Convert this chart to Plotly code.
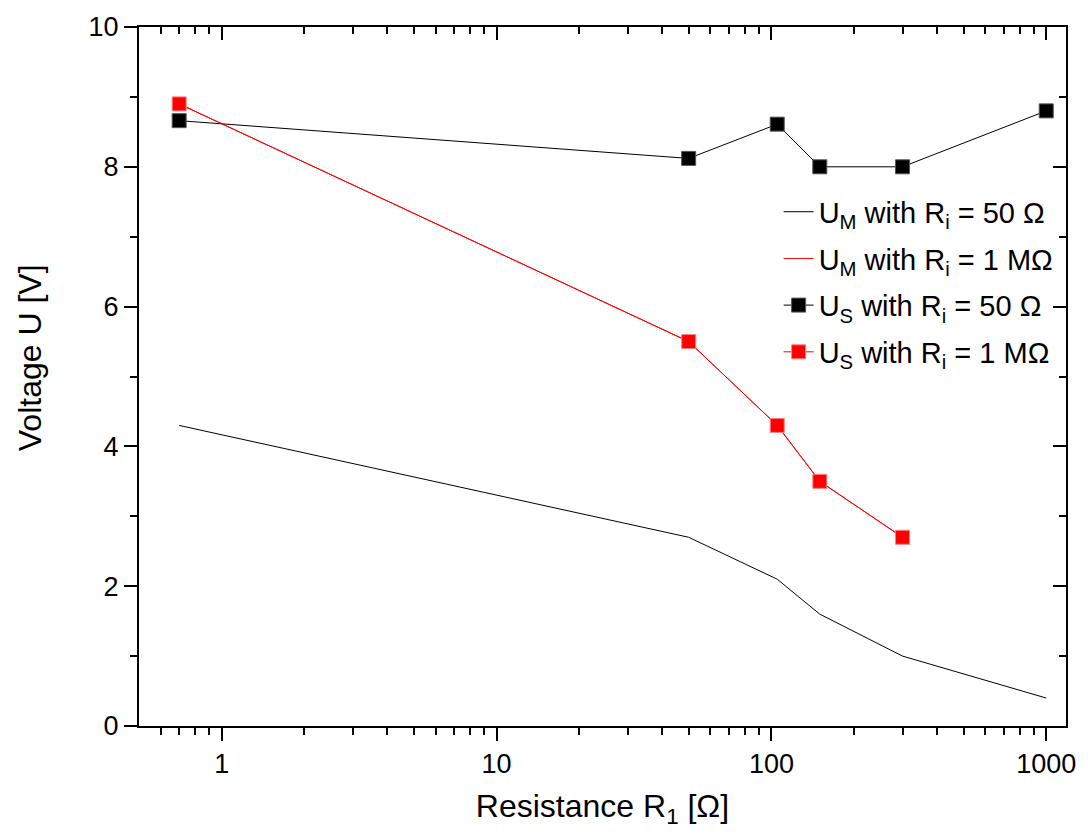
import math
import plotly.graph_objects as go

# Data
r_um50 = [0.7, 50, 105, 150, 300, 1000]
u_m50 = [4.3, 2.7, 2.1, 1.6, 1.0, 0.4]

r_um1m = [0.7, 50, 105, 150, 300]
u_m1m = [8.9, 5.5, 4.3, 3.5, 2.7]

r_us50 = [0.7, 50, 105, 150, 300, 1000]
u_s50 = [8.66, 8.12, 8.61, 8.0, 8.0, 8.8]

r_us1m = [0.7, 50, 105, 150, 300]
u_s1m = [8.9, 5.5, 4.3, 3.5, 2.7]

x_ticks = [1, 10, 100, 1000]
x_tick_text = ["1", "10", "100", "1000"]
x_minor = [0.6, 0.7, 0.8, 0.9, 2, 3, 4, 5, 6, 7, 8, 9, 20, 30, 40, 50, 60, 70, 80, 90,
           200, 300, 400, 500, 600, 700, 800, 900]

FONT = "Arial, Liberation Sans, sans-serif"

fig = go.Figure()
fig.add_trace(go.Scatter(x=r_um50, y=u_m50, mode="lines", line=dict(color="black", width=1),
                         legendgroup="a",
                         name="U<sub>M</sub> with R<sub>i</sub> = 50 Ω"))
fig.add_trace(go.Scatter(x=r_um1m, y=u_m1m, mode="lines", line=dict(color="#ff0000", width=1),
                         legendgroup="b",
                         name="U<sub>M</sub> with R<sub>i</sub> = 1 MΩ"))
fig.add_trace(go.Scatter(x=r_us50, y=u_s50, mode="lines+markers", line=dict(color="black", width=1),
                         marker=dict(symbol="square", size=14, color="black",
                                     line=dict(color="#555555", width=1)),
                         legendgroup="c",
                         name="U<sub>S</sub> with R<sub>i</sub> = 50 Ω"))
# plotted on the mirror axes (identical ranges) so the top/right axes are drawn
fig.add_trace(go.Scatter(x=r_us1m, y=u_s1m, mode="lines+markers", line=dict(color="#ff0000", width=1),
                         marker=dict(symbol="square", size=14, color="#ff0000",
                                     line=dict(color="#ff8080", width=1)),
                         legendgroup="d", xaxis="x2", yaxis="y2",
                         name="U<sub>S</sub> with R<sub>i</sub> = 1 MΩ"))

xr = [math.log10(0.5), math.log10(1180)]
yr = [0, 10]

axis_common = dict(showline=True, linecolor="black", linewidth=2, showgrid=False, zeroline=False)

fig.update_layout(
    width=1088, height=835,
    margin=dict(l=139, r=15, t=27, b=109),
    paper_bgcolor="white", plot_bgcolor="white",
    font=dict(family=FONT, color="black", size=27),
    showlegend=True,
    legend=dict(x=0.69, y=0.772, xanchor="left", yanchor="top", bgcolor="rgba(0,0,0,0)",
                font=dict(size=29, family=FONT), tracegroupgap=6, traceorder="grouped"),
    xaxis=dict(type="log", range=xr, tickvals=x_ticks, ticktext=x_tick_text,
               ticks="outside", ticklen=13, tickwidth=2, tickcolor="black",
               minor=dict(tickvals=x_minor, ticks="outside", ticklen=7, tickwidth=2, tickcolor="black"),
               title=dict(text="Resistance R<sub>1</sub> [Ω]", font=dict(size=32), standoff=16),
               tickfont=dict(size=27), **axis_common),
    yaxis=dict(range=yr, dtick=2, tick0=0,
               ticks="outside", ticklen=13, tickwidth=2, tickcolor="black",
               minor=dict(dtick=1, ticks="outside", ticklen=7, tickwidth=2, tickcolor="black"),
               tickfont=dict(size=27), **axis_common),
    xaxis2=dict(type="log", range=xr, overlaying="x", side="top", anchor="y2", tickvals=x_ticks,
                showticklabels=False, ticks="inside", ticklen=13, tickwidth=2, tickcolor="black",
                minor=dict(tickvals=x_minor, ticks="inside", ticklen=7, tickwidth=2, tickcolor="black"),
                **axis_common),
    yaxis2=dict(range=yr, overlaying="y", side="right", anchor="x2", dtick=2, tick0=0,
                showticklabels=False, ticks="inside", ticklen=13, tickwidth=2, tickcolor="black",
                minor=dict(dtick=1, ticks="inside", ticklen=7, tickwidth=2, tickcolor="black"),
                **axis_common),
    annotations=[dict(text="Voltage U [V]", textangle=-90, xref="paper", yref="paper",
                      x=-0.118, y=0.527, xanchor="center", yanchor="middle", showarrow=False,
                      font=dict(size=32, family=FONT, color="black"))],
)

fig.write_html("out.html")
